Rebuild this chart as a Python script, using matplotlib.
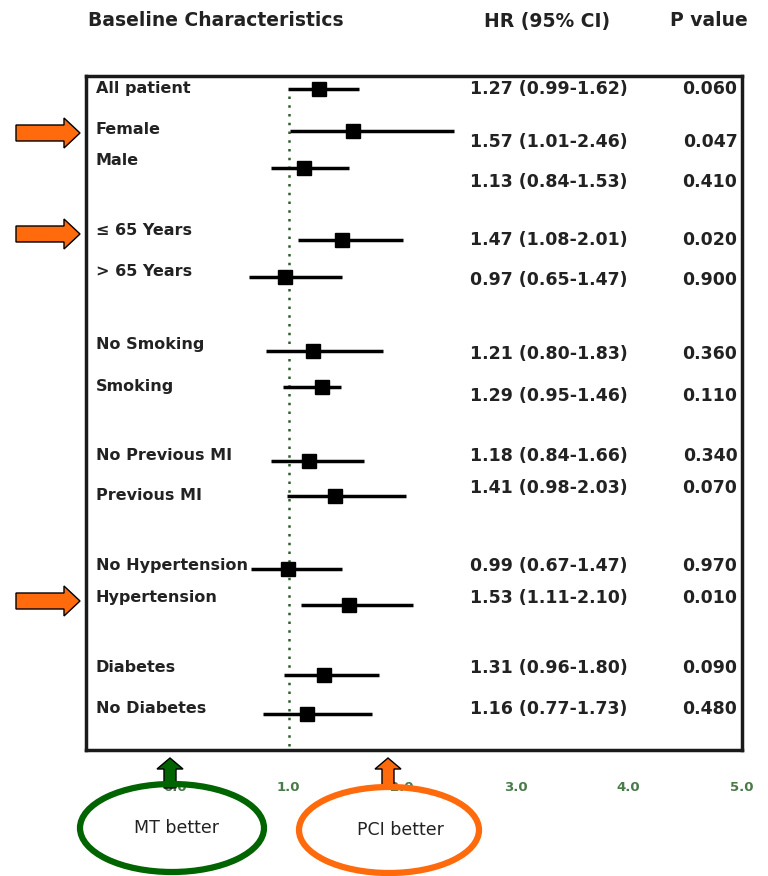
import matplotlib
matplotlib.use('Agg')
import matplotlib.pyplot as plt
from matplotlib.patches import Ellipse, FancyArrow

plt.rcParams['font.family'] = ['DejaVu Sans']

# subgroup data
groups = ['All patient', 'Female', 'Male', '\u2264 65 Years', '> 65 Years',
          'No Smoking', 'Smoking', 'No Previous MI', 'Previous MI',
          'No Hypertension', 'Hypertension', 'Diabetes', 'No Diabetes']
hr = [1.27, 1.57, 1.13, 1.47, 0.97, 1.21, 1.29, 1.18, 1.41, 0.99, 1.53, 1.31, 1.16]
ci_low = [0.99, 1.01, 0.84, 1.08, 0.65, 0.80, 0.95, 0.84, 0.98, 0.67, 1.11, 0.96, 0.77]
ci_high = [1.62, 2.46, 1.53, 2.01, 1.47, 1.83, 1.46, 1.66, 2.03, 1.47, 2.10, 1.80, 1.73]
p_values = ['0.060', '0.047', '0.410', '0.020', '0.900', '0.360', '0.110',
            '0.340', '0.070', '0.970', '0.010', '0.090', '0.480']
highlighted = ['Female', '\u2264 65 Years', 'Hypertension']
x_ticks = [0, 1, 2, 3, 4, 5]
x_ticklabels = ['0.0', '1.0', '2.0', '3.0', '4.0', '5.0']

# vertical placement (pixel rows) of labels, markers and stat columns
label_rows = [89, 130, 161, 231, 272, 345, 387, 456, 496, 566, 598, 668, 709]
mark_rows = [89, 131, 168, 240, 277, 351, 387, 461, 496, 569, 605, 675, 714]
stat_rows = [89, 142, 182, 240, 280, 354, 396, 456, 488, 566, 598, 668, 709]

W, H = 768, 876
fig = plt.figure(figsize=(W / 100, H / 100), dpi=100)
fig.patch.set_facecolor('white')

txt = '#222222'
fs = 11.5
fs_stat = 12.5

# forest panel
ax = fig.add_axes([86 / W, 1 - 750 / H, (742 - 86) / W, (750 - 76) / H])
ax.set_xlim(-0.79, 5.0)
ax.set_ylim(750, 76)
for s in ax.spines.values():
    s.set_linewidth(2.5)
    s.set_color('#1a1a1a')
ax.set_yticks([])
ax.set_xticks(x_ticks)
ax.set_xticklabels(x_ticklabels, fontsize=9.5, color='#4a7a4a', fontweight='bold')
ax.tick_params(axis='x', length=0, pad=22)

# reference line at HR = 1
ax.plot([1, 1], [96, 750], color='#2e5e2e', lw=1.8, ls=(0, (1, 2.5)))

for i in range(len(groups)):
    y = mark_rows[i]
    ax.plot([ci_low[i], ci_high[i]], [y, y], color='black', lw=2.5, solid_capstyle='butt')
    ax.plot(hr[i], y, marker='s', color='black', ms=10)
    ax.text(0.015, label_rows[i], groups[i], transform=ax.get_yaxis_transform(),
            ha='left', va='center', fontsize=fs, fontweight='bold', color=txt)
    ax.text(0.585, stat_rows[i], f'{hr[i]:.2f} ({ci_low[i]:.2f}-{ci_high[i]:.2f})',
            transform=ax.get_yaxis_transform(), ha='left', va='center',
            fontsize=fs_stat, fontweight='bold', color=txt)
    ax.text(0.993, stat_rows[i], p_values[i], transform=ax.get_yaxis_transform(),
            ha='right', va='center', fontsize=fs_stat, fontweight='bold', color=txt)

# overlay in pixel units for headers, arrows and ovals
ov = fig.add_axes([0, 0, 1, 1], facecolor='none')
ov.set_xlim(0, W)
ov.set_ylim(H, 0)
ov.axis('off')

ov.text(88, 21, 'Baseline Characteristics', ha='left', va='center', fontsize=13.5,
        fontweight='bold', color=txt)
ov.text(547, 21, 'HR (95% CI)', ha='center', va='center', fontsize=13.5,
        fontweight='bold', color=txt)
ov.text(748, 21, 'P value', ha='right', va='center', fontsize=13.5,
        fontweight='bold', color=txt)

orange = '#FF6A0D'
green = '#006400'

for name in highlighted:
    y = label_rows[groups.index(name)] + 3
    ov.add_patch(FancyArrow(16, y, 64, 0, width=16, head_width=30, head_length=16,
                            length_includes_head=True, fc=orange, ec='black', lw=1))

for cx, col in [(170, green), (388, orange)]:
    ov.add_patch(FancyArrow(cx, 788, 0, -30, width=12, head_width=26, head_length=11,
                            length_includes_head=True, fc=col, ec='black', lw=1, zorder=5))

ov.add_patch(Ellipse((172, 828), 184, 88, fill=False, ec=green, lw=4.5, zorder=6))
ov.add_patch(Ellipse((389, 830), 180, 86, fill=False, ec=orange, lw=4.5, zorder=6))
ov.text(176, 828, 'MT better', ha='center', va='center', fontsize=12.5,
        color=txt, zorder=7)
ov.text(400, 830, 'PCI better', ha='center', va='center', fontsize=12.5,
        color=txt, zorder=7)

fig.savefig('out.png', dpi=100, facecolor='white')
